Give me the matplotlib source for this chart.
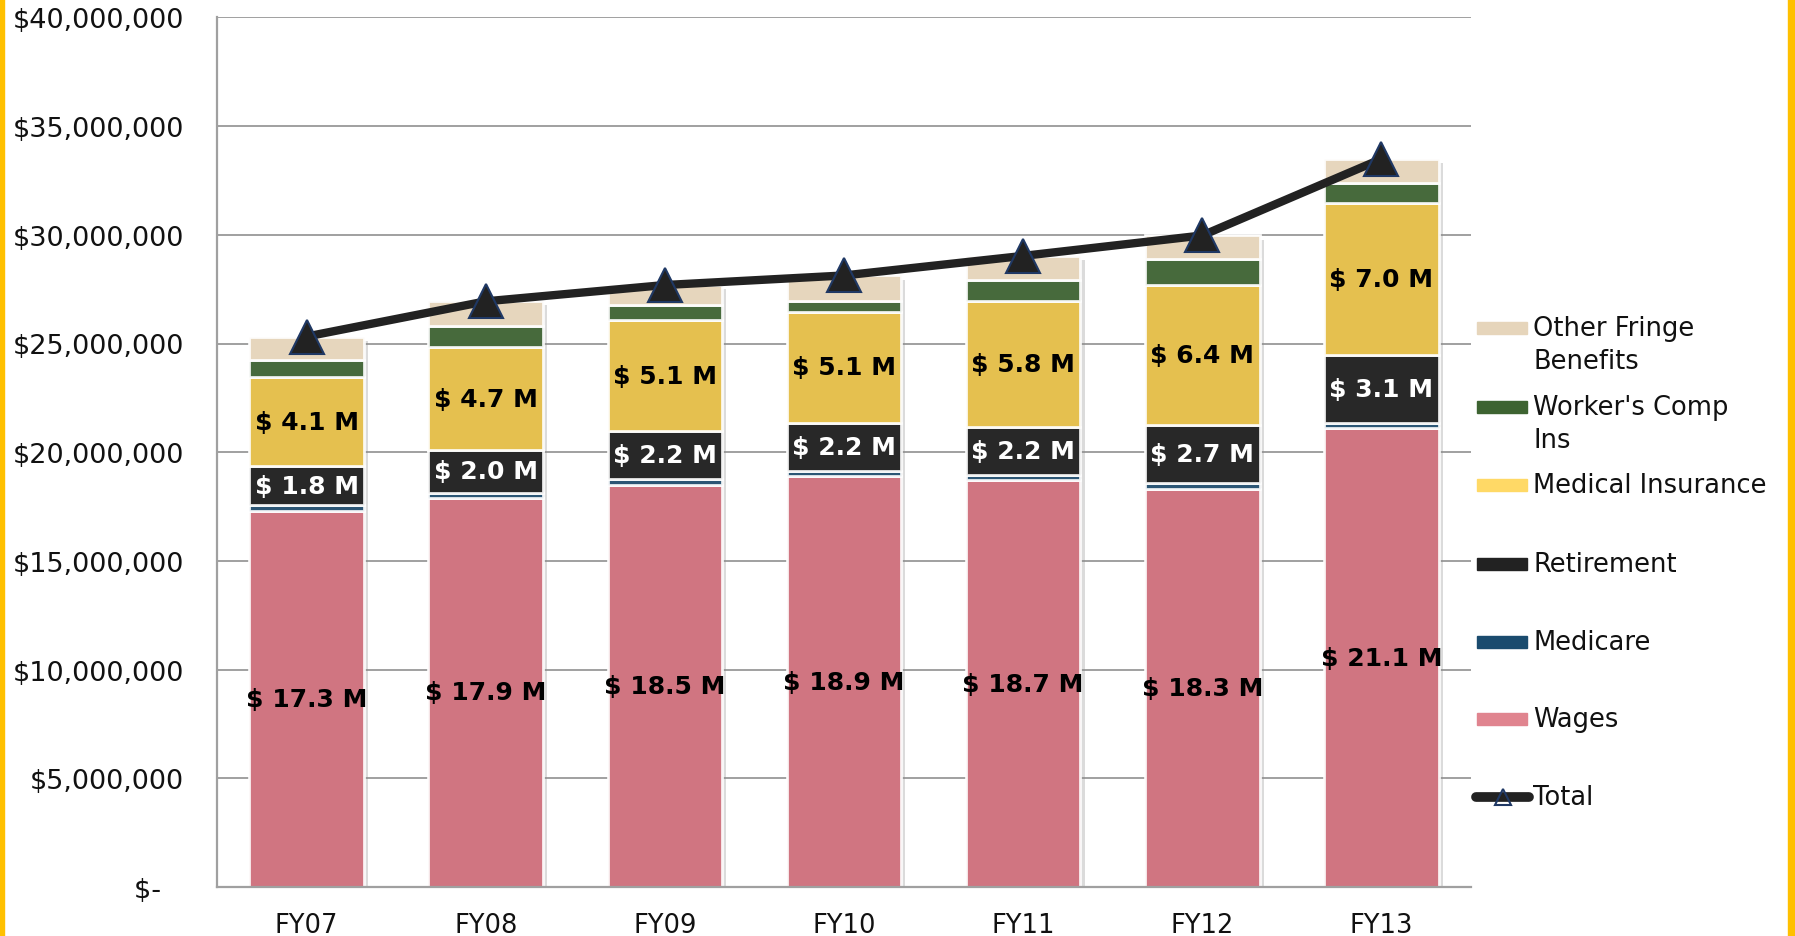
import numpy as np
import matplotlib.pyplot as plt
from matplotlib.patches import Rectangle
from matplotlib.lines import Line2D
import matplotlib.patheffects as pe

# values, in dollars
years = ['FY07', 'FY08', 'FY09', 'FY10', 'FY11', 'FY12', 'FY13']
wages = [17300000, 17900000, 18500000, 18900000, 18700000, 18300000, 21100000]
medicare = [250000, 220000, 270000, 250000, 260000, 270000, 260000]
retirement = [1800000, 2000000, 2200000, 2200000, 2200000, 2700000, 3100000]
medical = [4100000, 4700000, 5100000, 5100000, 5800000, 6400000, 7000000]
workers_comp = [800000, 970000, 700000, 500000, 970000, 1200000, 930000]
other_fringe = [1070000, 1150000, 920000, 1180000, 1100000, 1100000, 1100000]

series = [
    ('Wages', wages, '#cb6673', '#e0848f', 'black'),
    ('Medicare', medicare, '#154466', '#1a4b6e', None),
    ('Retirement', retirement, '#101010', '#222222', 'white'),
    ('Medical Insurance', medical, '#e3b93c', '#ffd966', 'black'),
    ("Worker's Comp Ins", workers_comp, '#335a27', '#3d6331', None),
    ('Other Fringe Benefits', other_fringe, '#e4d2b6', '#e6d5bb', None),
]

W, H = 1795, 937
fig = plt.figure(figsize=(W / 100, H / 100), dpi=100)
ax = fig.add_axes([217 / W, 1 - 888 / H, (1471 - 217) / W, (888 - 18.4) / H])

x = np.arange(len(years))
width = 0.64
total = np.sum([s[1] for s in series], axis=0)

# shadow behind each whole bar
ax.bar(x, total, width, color='white', zorder=1,
       path_effects=[pe.SimplePatchShadow(offset=(3, -3), shadow_rgbFace='#888888', alpha=0.3), pe.Normal()])

bottom = np.zeros(len(years))
for name, vals, col, lcol, tcol in series:
    vals = np.array(vals, dtype=float)
    ax.bar(x, vals, width, bottom=bottom, color=col, alpha=0.9,
           edgecolor='white', linewidth=2, zorder=2)
    if tcol:
        for i, v in enumerate(vals):
            ax.text(x[i], bottom[i] + v / 2, '$ %.1f M' % (v / 1e6), ha='center', va='center',
                    fontsize=18, fontweight='bold', color=tcol, zorder=4)
    bottom += vals

ax.plot(x, total, color='#222222', lw=6, marker='^', markersize=24,
        mfc='#222222', mec='#1f3864', mew=1.5, zorder=3)

ax.set_xlim(-0.5, len(years) - 0.5)
ax.set_ylim(0, 40000000)
ax.set_yticks(np.arange(0, 40000001, 5000000))
ax.set_yticklabels(['$-  \u2009'] + ['${:,.0f}'.format(v) for v in np.arange(5000000, 40000001, 5000000)])
ax.set_xticks(x)
ax.set_xticklabels(years, family=['Liberation Sans Narrow', 'DejaVu Sans'], fontsize=18.5)
ax.tick_params(axis='y', length=0, pad=24, labelsize=19.5, labelcolor='#111111')
ax.tick_params(axis='x', length=0, pad=18, labelcolor='#111111')
ax.yaxis.grid(True, color='#a0a0a0', lw=1.4, zorder=0)
ax.set_axisbelow(True)
for s in ['top', 'right']:
    ax.spines[s].set_visible(False)
for s in ['left', 'bottom']:
    ax.spines[s].set_color('#a0a0a0')
    ax.spines[s].set_linewidth(1.6)

# legend drawn by hand so that two-line labels sit like the original
def fx(px):
    return px / W

def fy(py):
    return 1 - py / H

legend_rows = [
    ('Other Fringe Benefits', ['Other Fringe', 'Benefits'], 329),
    ("Worker's Comp Ins", ["Worker's Comp", 'Ins'], 408),
    ('Medical Insurance', ['Medical Insurance'], 486),
    ('Retirement', ['Retirement'], 565),
    ('Medicare', ['Medicare'], 643),
    ('Wages', ['Wages'], 720),
]
lcolors = {s[0]: s[3] for s in series}
for name, lines, py in legend_rows:
    fig.add_artist(Rectangle((fx(1477), fy(py + 6)), fx(50), 12 / H,
                             transform=fig.transFigure, color=lcolors[name]))
    for k, t in enumerate(lines):
        fig.text(fx(1533), fy(py + 33 * k), t, fontsize=18.5, va='center', ha='left', color='#111111')

fig.add_artist(Line2D([fx(1476), fx(1503), fx(1529)], [fy(798)] * 3, transform=fig.transFigure,
                      color='#222222', lw=7, solid_capstyle='round', marker='^', markevery=[1],
                      markersize=11, mfc='none', mec='#1f3864', mew=1.5))
fig.text(fx(1533), fy(798), 'Total', fontsize=18.5, va='center', ha='left', color='#111111')

# yellow side borders
fig.add_artist(Rectangle((0, 0), fx(4), 1, transform=fig.transFigure, color='#ffc000'))
fig.add_artist(Rectangle((fx(1788), 0), fx(7), 1, transform=fig.transFigure, color='#ffc000'))

fig.savefig('out.png', dpi=100)
